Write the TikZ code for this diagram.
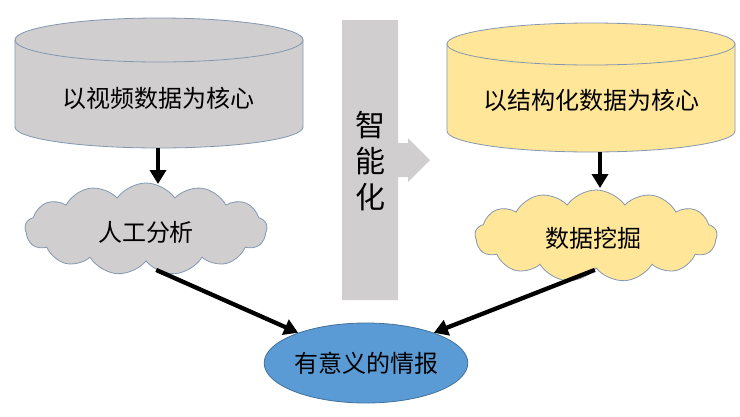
\documentclass[tikz,border=0pt]{standalone}
\usepackage{fontspec}
\setmainfont{Noto Sans CJK SC}
\usetikzlibrary{shapes.symbols,shapes.geometric,arrows.meta}
\definecolor{cylgray}{HTML}{D0CECE}
\definecolor{cylyellow}{HTML}{FFE699}
\definecolor{edgeblue}{HTML}{8497B0}
\definecolor{ellblue}{HTML}{5B9BD5}
\definecolor{elledge}{HTML}{41719C}
\definecolor{bargray}{HTML}{D0CECE}
\tikzset{
  txt/.style={font=\fontsize{24pt}{28pt}\selectfont, text=black},
  cylbody/.style={draw=edgeblue, line width=0.8pt},
  cloudbox/.style={cloud, cloud puffs=13, cloud puff arc=110, aspect=2.6,
    draw=edgeblue, line width=0.8pt, minimum width=242pt, minimum height=92pt, inner sep=0pt},
  arr/.style={line width=4.3pt, -{Triangle[length=14pt,width=16pt]}, black},
}
\begin{document}
\begin{tikzpicture}[x=1pt,y=-1pt]
\useasboundingbox (0,0) rectangle (740,416);
% left cylinder
\filldraw[cylbody, fill=cylgray] (15,40) -- (15,127) arc[start angle=180,end angle=0,x radius=144,y radius=21] -- (303,40) -- cycle;
\filldraw[cylbody, fill=cylgray] (159,40) ellipse[x radius=144, y radius=22];
\node[txt, minimum width=288pt, minimum height=130pt] (cylL) at (159,83) {};
\node[txt] (cylLt) at (159,98) {以视频数据为核心};
% right cylinder
\filldraw[cylbody, fill=cylyellow] (447,44) -- (447,131) arc[start angle=180,end angle=0,x radius=144,y radius=21] -- (735,44) -- cycle;
\filldraw[cylbody, fill=cylyellow] (591,44) ellipse[x radius=144, y radius=21];
\node[txt, minimum width=288pt, minimum height=130pt] (cylR) at (591,87) {};
\node[txt] (cylRt) at (591,100) {以结构化数据为核心};
% middle bar with arrow
\fill[bargray] (342,20) -- (398,20) -- (398,143) -- (408,143) -- (408,138) -- (430,160) -- (408,182) -- (408,177) -- (398,177) -- (398,300) -- (342,300) -- cycle;
\node[font=\fontsize{30pt}{36pt}\selectfont, align=center, text=black] (bar) at (370,161) {智\\能\\化};
% clouds
\node[cloudbox, fill=cylgray, txt] (cloudL) at (146,229) {};
\node[txt] at (146,232) {人工分析};
\node[cloudbox, fill=cylyellow, txt] (cloudR) at (596,236) {};
\node[txt] at (593,238) {数据挖掘};
% ellipse
\node[ellipse, draw=elledge, line width=0.8pt, fill=ellblue, minimum width=186pt, minimum height=80pt, inner sep=0pt, txt] (ell) at (366,363) {有意义的情报};
% arrows
\draw[arr] (cylL.south -| 158,0) -- (158,184) coordinate (cLtop);
\draw[arr] (cylR.south -| 600,0) -- (600,188) coordinate (cRtop);
\draw[arr] (cloudL.-76) -- (ell.156);
\draw[arr] (cloudR.-92) -- (ell.24);
\end{tikzpicture}
\end{document}
